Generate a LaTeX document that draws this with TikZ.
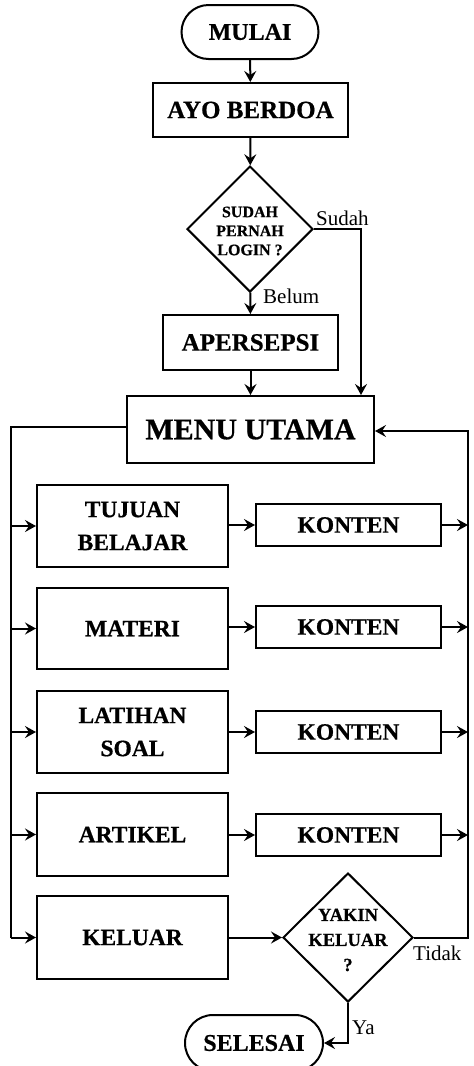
\documentclass[tikz,border=0pt]{standalone}
\usepackage{fontspec}
\setmainfont{Liberation Serif}[BoldFeatures={FakeBold=0.6}]
\usetikzlibrary{shapes.geometric,arrows.meta,calc}
\tikzset{
  every picture/.style={x=1pt,y=-1pt},
  ln/.style={line width=2pt},
  arr/.style={ln,-{Stealth[length=11pt,width=12pt,inset=4pt]}},
  term/.style={draw,ln,rounded corners=27pt,minimum width=137pt,minimum height=54pt,inner sep=0pt,font=\bfseries\fontsize{24}{26}\selectfont},
  procbox/.style={draw,ln,inner sep=0pt,font=\bfseries\fontsize{23.5}{33}\selectfont,align=center},
  decbox/.style={draw,ln,diamond,inner sep=0pt,aspect=1},
  lbl/.style={font=\fontsize{21}{22}\selectfont,inner sep=0pt}
}
\begin{document}
\begin{tikzpicture}
\useasboundingbox (0,0) rectangle (474,1066);
% top part
\node[term] (mulai) at (250,32) {MULAI};
\node[procbox,minimum width=195pt,minimum height=54pt,font=\bfseries\fontsize{25}{26}\selectfont] (ayo) at (250.5,110) {AYO BERDOA};
\node[decbox,minimum width=126pt,minimum height=126pt] (login) at (250,229) {};
\node[align=center,inner sep=0pt,font=\bfseries\fontsize{16}{19}\selectfont] (logintxt) at (250,231) {SUDAH\\PERNAH\\LOGIN ?};
\node[procbox,minimum width=175pt,minimum height=55pt,font=\bfseries\fontsize{25}{26}\selectfont] (aper) at (250.5,342.5) {APERSEPSI};
\node[procbox,minimum width=247pt,minimum height=67pt,font=\bfseries\fontsize{30}{32}\selectfont] (menu) at (250.5,429.5) {MENU UTAMA};
% left column
\node[procbox,minimum width=191pt,minimum height=82pt] (tujuan) at (132.5,526) {TUJUAN\\BELAJAR};
\node[procbox,minimum width=191pt,minimum height=81pt] (materi) at (132.5,628.5) {MATERI};
\node[procbox,minimum width=191pt,minimum height=82pt] (latihan) at (132.5,732) {LATIHAN\\SOAL};
\node[procbox,minimum width=191pt,minimum height=83pt] (artikel) at (132.5,834.5) {ARTIKEL};
\node[procbox,minimum width=191pt,minimum height=83pt] (keluar) at (132.5,937.5) {KELUAR};
% right column
\node[procbox,minimum width=185pt,minimum height=42pt] (k1) at (348.5,525) {KONTEN};
\node[procbox,minimum width=185pt,minimum height=42pt] (k2) at (348.5,627) {KONTEN};
\node[procbox,minimum width=185pt,minimum height=42pt] (k3) at (348.5,732) {KONTEN};
\node[procbox,minimum width=185pt,minimum height=42pt] (k4) at (348.5,835) {KONTEN};
\node[decbox,minimum width=130pt,minimum height=129pt] (yakin) at (348,937.5) {};
\node[align=center,inner sep=0pt,font=\bfseries\fontsize{18.5}{25}\selectfont] (yakintxt) at (348,940) {YAKIN\\KELUAR\\?};
\node[term,minimum width=138pt,minimum height=56pt,rounded corners=28pt] (selesai) at (254,1043) {SELESAI};
% labels
\node[lbl,anchor=west] (sudah) at (316,218) {Sudah};
\node[lbl,anchor=west] (belum) at (263,296) {Belum};
\node[lbl,anchor=west] (tidak) at (413,953) {Tidak};
\node[lbl,anchor=west] (ya) at (352,1028) {Ya};
% coordinates
\coordinate (sdown) at (361,229);
\coordinate (lx) at (11,427);
\coordinate (rx) at (468,431);
\coordinate (rb) at (468,937.5);
\coordinate (yb) at (348,1043);
% connectors
\draw[arr] (mulai) -- (ayo);
\draw[arr] (ayo) -- (login);
\draw[arr] (login) -- (aper);
\draw[arr] (aper) -- (menu);
\draw[arr] (login.east) -- (sdown) -- (sdown |- menu.north);
\draw[ln] (menu.west |- lx) -- (lx) -- (lx |- keluar.west);
\draw[arr] (lx |- keluar.west) -- (keluar.west);
\draw[arr] (lx |- tujuan.west) -- (tujuan.west);
\draw[arr] (lx |- materi.west) -- (materi.west);
\draw[arr] (lx |- latihan.west) -- (latihan.west);
\draw[arr] (lx |- artikel.west) -- (artikel.west);
\draw[arr] (tujuan.east |- k1.west) -- (k1.west);
\draw[arr] (materi.east |- k2.west) -- (k2.west);
\draw[arr] (latihan) -- (k3);
\draw[arr] (artikel.east |- k4.west) -- (k4.west);
\draw[arr] (k1.east) -- (rx |- k1.east);
\draw[arr] (k2.east) -- (rx |- k2.east);
\draw[arr] (k3.east) -- (rx |- k3.east);
\draw[arr] (k4.east) -- (rx |- k4.east);
\draw[arr] (keluar) -- (yakin);
\draw[arr] (yakin.east) -- (rb) -- (rx) -- (menu.east |- rx);
\draw[arr] (yakin.south) -- (yb) -- (selesai.east);
\end{tikzpicture}
\end{document}
